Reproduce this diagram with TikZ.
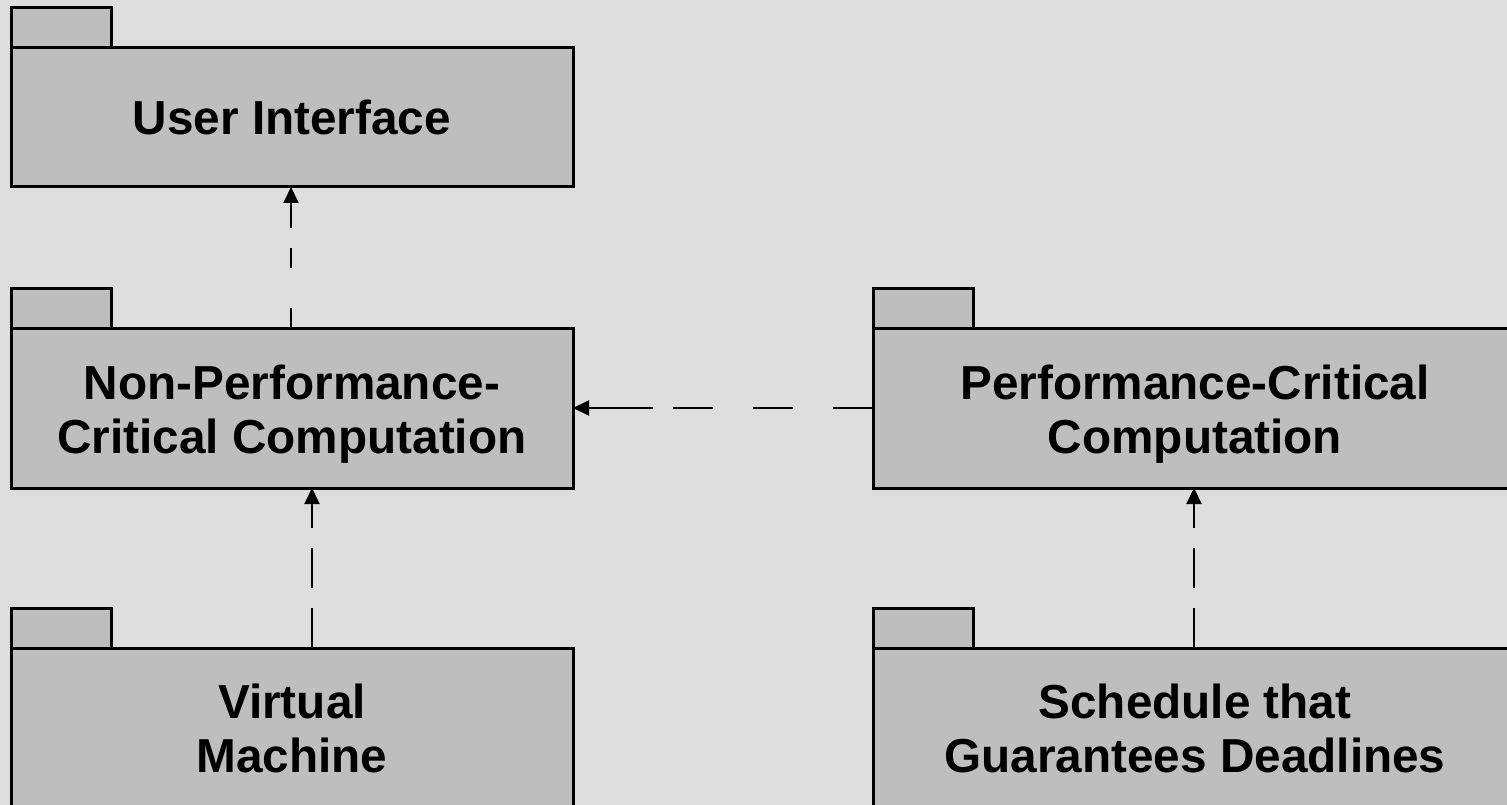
\documentclass[tikz,border=0pt]{standalone}
\usepackage{fontspec}
\setmainfont{Liberation Sans}
\usetikzlibrary{arrows.meta}

\definecolor{bgcol}{HTML}{DDDDDD}
\definecolor{pkgcol}{HTML}{BEBEBE}

\tikzset{
  pkgtext/.style={align=center, inner sep=0pt, font=\fontsize{47.7}{54}\selectfont\bfseries},
  pkgbody/.style={pkgtext, draw, line width=3pt, fill=pkgcol, outer sep=0pt,
    minimum width=562pt, minimum height=160pt},
  pkgtab/.style={draw, line width=3pt, fill=pkgcol, inner sep=0pt, outer sep=0pt,
    minimum width=100pt, minimum height=40pt, anchor=south west},
  dep/.style={line width=2pt, -{Triangle[length=16pt,width=15pt]}}
}

\begin{document}
\begin{tikzpicture}[x=1pt, y=-1pt]
        \useasboundingbox (0,0) rectangle (1507,805);
        \clip (0,0) rectangle (1507,805);
        \fill[bgcol] (0,0) rectangle (1507,805);

        % package tabs
        \node[pkgtab] (uitab) at (11,48) {};
        \node[pkgtab] (npctab) at (11,328) {};
        \node[pkgtab] (vmtab) at (11,648) {};
        \node[pkgtab] (pctab) at (873,328) {};
        \node[pkgtab] (schedtab) at (873,648) {};

        % package bodies
        \node[pkgbody, minimum height=139pt] (ui) at (292,117.5) {User Interface};
        \node[pkgbody] (npc) at (292,408) {};
        \node[pkgbody] (vm) at (292,728) {Virtual\\Machine};
        \node[pkgbody, minimum width=644pt] (pc) at (1195,408) {};
        \node[pkgbody, minimum width=644pt] (sched) at (1195,728) {Schedule that\\Guarantees Deadlines};

        % names of the middle packages, a bit lower
        \node[pkgtext, yshift=-6pt] (npctext) at (npc) {Non-Performance-\\Critical Computation};
        \node[pkgtext, yshift=-6pt] (pctext) at (pc) {Performance-Critical\\Computation};

        % dependencies
        \draw[dep, dash pattern=on 20pt off 40pt on 20pt off 20pt on 40pt]
          ([xshift=-1pt]npc.north) -- ([xshift=-1pt]ui.south);
        \draw[dep, dash pattern=on 40pt off 20pt]
          ([xshift=20pt]vm.north) -- ([xshift=20pt]npc.south);
        \draw[dep, dash pattern=on 40pt off 20pt]
          ([xshift=-1pt]sched.north) -- ([xshift=-1pt]pc.south);
        \draw[dep, dash pattern=on 40pt off 40pt on 40pt off 40pt on 40pt off 20pt on 80pt]
          (pc.west) -- (npc.east);
      \end{tikzpicture}
\end{document}
